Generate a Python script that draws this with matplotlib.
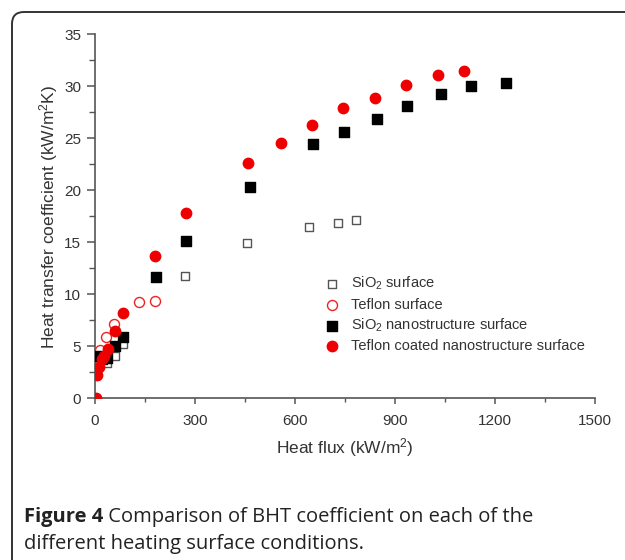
"""
BHT coefficient vs heat flux for different heating surfaces
"""
import matplotlib
matplotlib.use('Agg')
import matplotlib.pyplot as plt
import matplotlib.patches as mpatches
from matplotlib.transforms import IdentityTransform
from matplotlib.ticker import MultipleLocator

# SiO2 surface (open squares)
sio2_x = [10, 37, 59, 83, 270, 455, 642, 730, 783]
sio2_y = [3.6, 3.4, 4.1, 5.2, 11.8, 14.9, 16.5, 16.9, 17.2]

# Teflon surface (open circles)
teflon_x = [8, 15, 34, 56, 133, 180]
teflon_y = [4.3, 4.65, 5.9, 7.15, 9.3, 9.4]

# SiO2 nanostructure surface (filled squares)
sio2_nano_x = [8, 20, 35, 59, 83, 182, 272, 465, 655, 747, 845, 937, 1037, 1127, 1232]
sio2_nano_y = [4.1, 3.8, 3.85, 5.0, 5.95, 11.7, 15.1, 20.3, 24.5, 25.6, 26.9, 28.1, 29.3, 30.0, 30.3]

# Teflon coated nanostructure surface (filled circles)
teflon_nano_x = [3, 7, 12, 20, 27, 39, 60, 83, 179, 272, 460, 557, 652, 745, 839, 934, 1030, 1107]
teflon_nano_y = [0, 2.3, 3.0, 3.8, 4.1, 4.8, 6.5, 8.2, 13.7, 17.8, 22.6, 24.6, 26.3, 27.9, 28.9, 30.1, 31.1, 31.5]

labels = ['SiO$_2$ surface', 'Teflon surface',
          'SiO$_2$ nanostructure surface', 'Teflon coated nanostructure surface']

plt.rcParams['font.family'] = ['Liberation Sans', 'DejaVu Sans']
plt.rcParams['mathtext.fontset'] = 'custom'
plt.rcParams['mathtext.rm'] = 'Liberation Sans'
plt.rcParams['mathtext.it'] = 'Liberation Sans:italic'

txt = '#333333'
fig = plt.figure(figsize=(6.25, 5.6), dpi=100)
ax = fig.add_axes([0.152, 0.2884, 0.8, 0.6503])

ax.scatter(sio2_x, sio2_y, marker='s', s=36, facecolor='white', edgecolor='#555555',
           linewidth=1.0, label=labels[0], zorder=2)
ax.scatter(teflon_x, teflon_y, marker='o', s=52, facecolor='white', edgecolor='#ee2222',
           linewidth=1.0, label=labels[1], zorder=3)
ax.scatter(sio2_nano_x, sio2_nano_y, marker='s', s=42, color='black', label=labels[2], zorder=4)
ax.scatter(teflon_nano_x, teflon_nano_y, marker='o', s=56, color='#ee0000', label=labels[3], zorder=5)

ax.set_xlim(0, 1500)
ax.set_ylim(0, 35)
ax.xaxis.set_major_locator(MultipleLocator(300))
ax.xaxis.set_minor_locator(MultipleLocator(150))
ax.yaxis.set_major_locator(MultipleLocator(5))
ax.yaxis.set_minor_locator(MultipleLocator(2.5))

for side in ['top', 'right']:
    ax.spines[side].set_visible(False)
for side in ['left', 'bottom']:
    ax.spines[side].set_color('#555555')
    ax.spines[side].set_linewidth(1.2)
ax.tick_params(which='major', width=1.1, color='#555555', labelsize=11, labelcolor=txt)
ax.tick_params(which='minor', width=1.0, color='#555555')
ax.tick_params(axis='x', which='major', length=4, pad=7)
ax.tick_params(axis='x', which='minor', length=3)
ax.tick_params(axis='y', which='major', length=6, pad=4)
ax.tick_params(axis='y', which='minor', length=4)

ax.set_xlabel('Heat flux (kW/m$^2$)', fontsize=12.5, color=txt, labelpad=6)
ax.set_ylabel('Heat transfer coefficient (kW/m$^2$K)', fontsize=12.5, color=txt, labelpad=3)

ax.legend(loc='upper left', bbox_to_anchor=(0.433, 0.375), frameon=False, fontsize=10.5,
          handlelength=1.0, handletextpad=0.8, labelspacing=0.35, labelcolor=txt)

# rounded border around the figure panel
border = mpatches.FancyBboxPatch((12, -30), 700, 578, boxstyle='round,pad=0,rounding_size=12',
                                 transform=IdentityTransform(), facecolor='none',
                                 edgecolor='#333333', linewidth=1.4)
fig.add_artist(border)

# caption
cap = fig.text(24 / 625, 1 - 517 / 560, 'Figure 4', fontsize=14.5, fontweight='bold',
               family='Open Sans', va='center', color='#222222')
ax.annotate(' Comparison of BHT coefficient on each of the', xy=(1, 0.5), xycoords=cap,
            va='center', ha='left', fontsize=14.5, family='Open Sans', color='#222222',
            annotation_clip=False)
fig.text(24 / 625, 1 - 544 / 560, 'different heating surface conditions.', fontsize=14.5,
         family='Open Sans', va='center', color='#222222')

plt.savefig('out.png', dpi=100)
